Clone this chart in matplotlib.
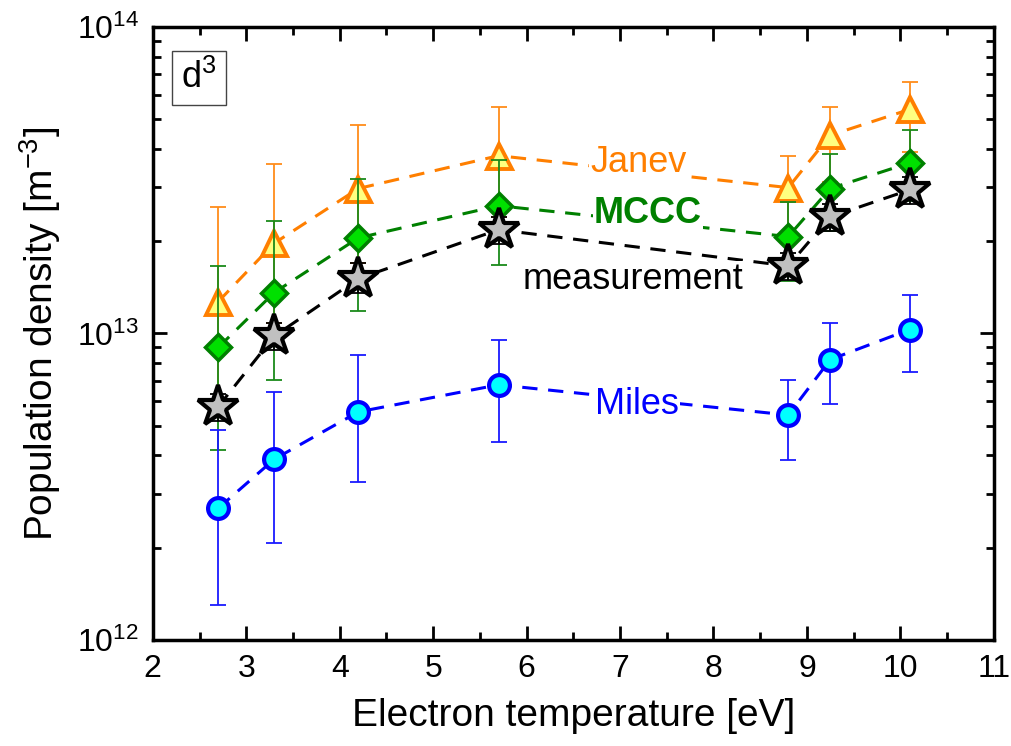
import numpy as np
import matplotlib
matplotlib.use('Agg')
from matplotlib import pyplot as plt
from matplotlib.ticker import LogLocator, MultipleLocator, NullFormatter

plt.rcParams['font.family'] = ['Liberation Sans', 'DejaVu Sans']
plt.rcParams['mathtext.fontset'] = 'custom'
plt.rcParams['mathtext.rm'] = 'Liberation Sans'

# electron temperature [eV]
te = [2.7, 3.3, 4.2, 5.7, 8.8, 9.25, 10.1]

# Janev
janev = [1.27e13, 1.97e13, 2.97e13, 3.8e13, 2.99e13, 4.43e13, 5.38e13]
janev_hi = [2.59e13, 3.56e13, 4.8e13, 5.47e13, 3.8e13, 5.47e13, 6.6e13]
janev_lo = [0.6e13, 1.08e13, 1.7e13, 2.4e13, 2.1e13, 3.13e13, 3.92e13]

# MCCC
mccc = [9.0e12, 1.36e13, 2.05e13, 2.61e13, 2.07e13, 2.97e13, 3.6e13]
mccc_hi = [1.66e13, 2.33e13, 3.18e13, 3.69e13, 2.69e13, 3.84e13, 4.6e13]
mccc_lo = [4.17e12, 7.06e12, 1.18e13, 1.67e13, 1.48e13, 2.16e13, 2.7e13]

# measurement
meas = [5.77e12, 9.8e12, 1.51e13, 2.18e13, 1.66e13, 2.4e13, 2.94e13]
meas_hi = [6.35e12, 1.08e13, 1.7e13, 2.4e13, 1.83e13, 2.64e13, 3.24e13]
meas_lo = [5.2e12, 8.8e12, 1.36e13, 1.96e13, 1.49e13, 2.16e13, 2.65e13]

# Miles
miles = [2.69e12, 3.89e12, 5.55e12, 6.8e12, 5.42e12, 8.22e12, 1.03e13]
miles_hi = [4.84e12, 6.45e12, 8.53e12, 9.55e12, 7.06e12, 1.08e13, 1.33e13]
miles_lo = [1.30e12, 2.08e12, 3.27e12, 4.43e12, 3.86e12, 5.89e12, 7.5e12]


def err(v, lo, hi):
    v = np.asarray(v)
    return [v - np.asarray(lo), np.asarray(hi) - v]


fig = plt.figure(figsize=(10.12, 7.46), dpi=100)
ax = fig.add_axes([0.151, 0.142, 0.831, 0.822])
ax.set_yscale('log')

dash = (0, (5, 3.5))
cap = 5.5

ax.errorbar(te, janev, yerr=err(janev, janev_lo, janev_hi), fmt='none',
            ecolor='#FF8C1A', elinewidth=1.3, capsize=cap, capthick=1.3, zorder=2)
ax.plot(te, janev, linestyle=dash, color='#FF7F00', lw=2.2, marker='^', ms=18,
        mfc='#FFFF80', mec='#FF7F00', mew=2.8, zorder=3)

ax.errorbar(te, mccc, yerr=err(mccc, mccc_lo, mccc_hi), fmt='none',
            ecolor='#1A8A1A', elinewidth=1.3, capsize=cap, capthick=1.3, zorder=4)
ax.plot(te, mccc, linestyle=dash, color='#008000', lw=2.2, marker='D', ms=13.5,
        mfc='#00E000', mec='#008000', mew=2.5, zorder=5)

ax.errorbar(te, meas, yerr=err(meas, meas_lo, meas_hi), fmt='none',
            ecolor='black', elinewidth=1.3, capsize=cap, capthick=1.3, zorder=6)
ax.plot(te, meas, linestyle=dash, color='black', lw=2.2, marker='*', ms=31,
        mfc='#C0C0C0', mec='black', mew=3, zorder=7)

ax.errorbar(te, miles, yerr=err(miles, miles_lo, miles_hi), fmt='none',
            ecolor='#1A1AFF', elinewidth=1.3, capsize=cap, capthick=1.3, zorder=4)
ax.plot(te, miles, linestyle=dash, color='#0000FF', lw=2.2, marker='o', ms=15,
        mfc='#00FFFF', mec='#0000FF', mew=3, zorder=5)

box = dict(facecolor='white', edgecolor='none', pad=1)
ax.text(7.2, 3.6e13, 'Janev', color='#FF7F00', fontsize=26, ha='center', va='center', bbox=box, zorder=8)
ax.text(7.3, 2.47e13, 'MCCC', color='#008000', fontsize=26, fontweight='bold', ha='center', va='center', bbox=box, zorder=8)
ax.text(7.14, 1.5e13, 'measurement', color='black', fontsize=26, ha='center', va='center', bbox=box, zorder=8)
ax.text(7.18, 5.85e12, 'Miles', color='#0000FF', fontsize=26, ha='center', va='center', bbox=box, zorder=8)

ax.text(0.034, 0.917, r'd$^{3}$', transform=ax.transAxes, fontsize=26, ha='left', va='center',
        bbox=dict(facecolor='white', edgecolor='#444444', lw=1, boxstyle='square,pad=0.25'))

ax.set_xlim(2, 11)
ax.set_ylim(1e12, 1e14)
ax.xaxis.set_major_locator(MultipleLocator(1))
ax.xaxis.set_minor_locator(MultipleLocator(0.5))
ax.yaxis.set_major_locator(LogLocator(base=10, numticks=5))
ax.yaxis.set_minor_locator(LogLocator(base=10, subs=np.arange(2, 10), numticks=20))
ax.yaxis.set_minor_formatter(NullFormatter())
ax.tick_params(which='both', direction='in', top=True, right=True, width=2, labelsize=23)
ax.tick_params(which='major', length=10, pad=10)
ax.tick_params(which='minor', length=6)
for s in ax.spines.values():
    s.set_linewidth(2.5)

ax.set_xlabel('Electron temperature [eV]', fontsize=28, labelpad=10)
ax.set_ylabel(r'Population density [m$^{-3}$]', fontsize=28, labelpad=10)

plt.savefig('out.png', dpi=100)
